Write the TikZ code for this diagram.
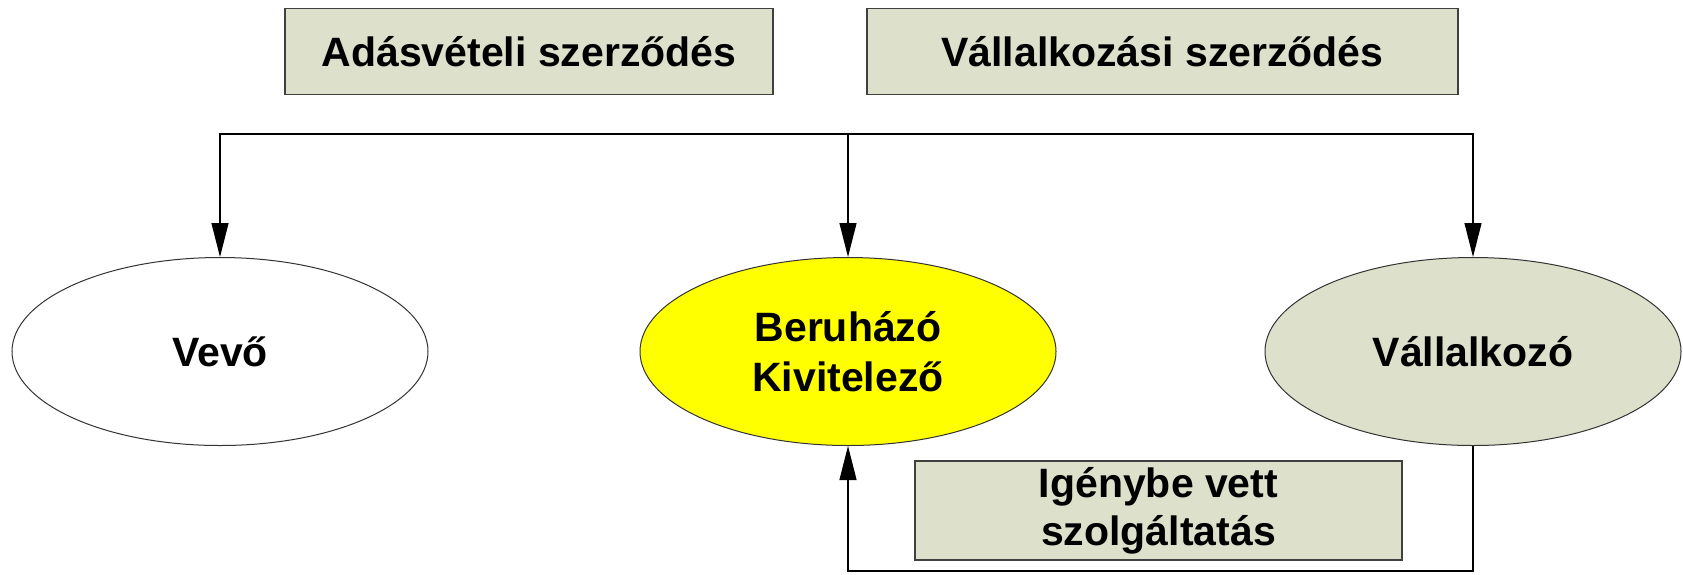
\documentclass[tikz,border=0pt]{standalone}
\usepackage{fontspec}
\setmainfont{Liberation Sans}
\definecolor{zoldes}{HTML}{DDE0CA}
\definecolor{sarga}{HTML}{FFFF00}
\usetikzlibrary{shapes, shapes.geometric, arrows.meta}

\begin{document}
\begin{tikzpicture}[x=1pt, y=-1pt,
    doboz/.style = {draw = black!75, line width = 1.2pt, fill = zoldes, minimum height = 86pt, inner sep = 0pt, align = center, font = \fontsize{41}{48}\selectfont\bfseries},
    szereplo/.style = {ellipse, draw = black!80, line width = 1pt, minimum width = 416pt, minimum height = 188pt, inner sep = 0pt, align = center, font = \fontsize{41}{50}\selectfont\bfseries},
    nyil/.style = {-{Triangle[length=34pt, width=17pt]}, line width = 1.2pt}]

    \useasboundingbox (0,0) rectangle (1683,574);

    %% szerzodesek
    \node [doboz, minimum width = 488pt] (adasveteli) at (529,51.5) {Adásvételi szerződés};
    \node [doboz, minimum width = 591pt] (vallalkozasi) at (1162.5,51.5) {Vállalkozási szerződés};

    %% szereplok
    \node [szereplo, fill = white] (vevo) at (220,351.5) {Vevő};
    \node [szereplo, fill = sarga] (beruhazo) at (848,351.5) {Beruházó\\Kivitelező};
    \node [szereplo, fill = zoldes] (vallalkozo) at (1473,351.5) {Vállalkozó};

    \node [doboz, minimum width = 487pt, minimum height = 99pt] (igenybe) at (1158.5,510.5) {Igénybe vett\\szolgáltatás};

    %% nyilak
    \coordinate (elagazas) at (848,134);
    \coordinate (alul) at (1160,571);

    \draw [nyil] (elagazas) -| (vevo.north);
    \draw [nyil] (elagazas) -- (beruhazo.north);
    \draw [nyil] (elagazas) -| (vallalkozo.north);
    \draw [nyil] (vallalkozo.south) |- (alul) -| (beruhazo.south);
    \draw [line width = 2.6pt] (vallalkozo.south |- alul) -- (beruhazo.south |- alul);

\end{tikzpicture}
\end{document}
